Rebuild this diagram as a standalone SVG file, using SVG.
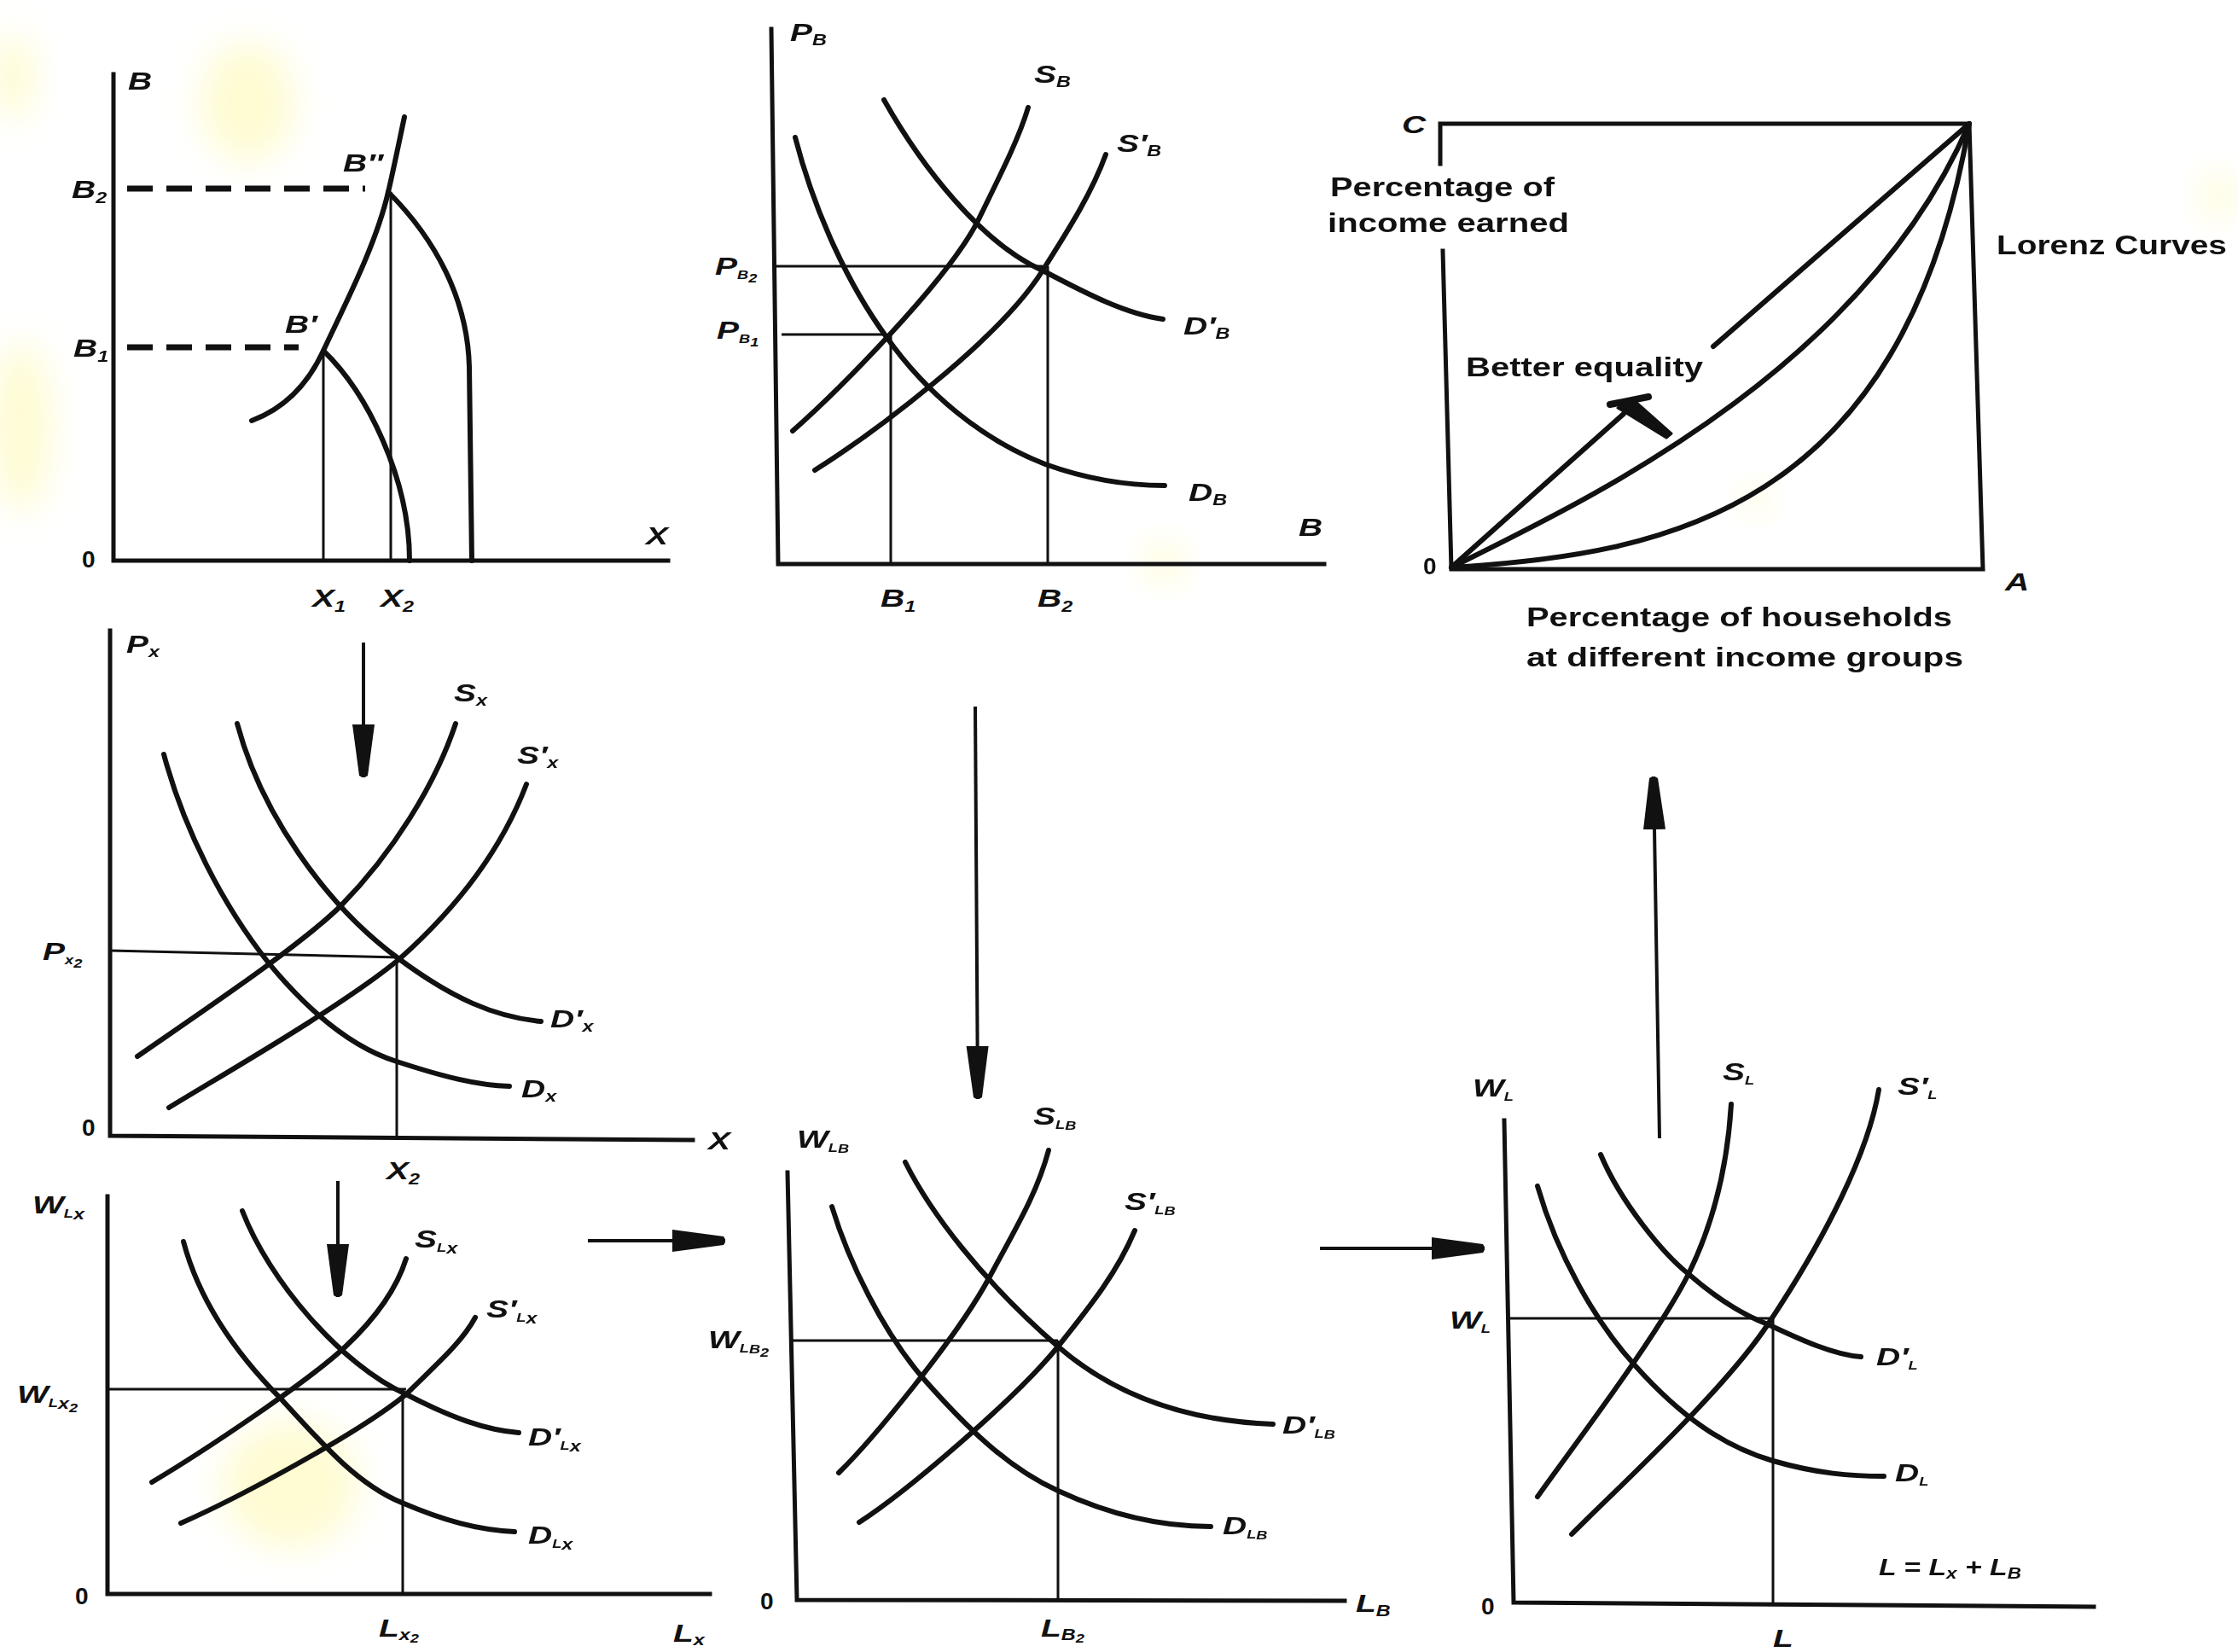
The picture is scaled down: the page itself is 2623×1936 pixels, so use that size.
<svg xmlns="http://www.w3.org/2000/svg" width="2623" height="1936" viewBox="0 0 2623 1936">
<defs>
<style>
.bg{fill:#ffffff}
.stain{fill:#fff690;filter:url(#blur)}
.crv{fill:none;stroke:#111;stroke-width:6;stroke-linecap:round;stroke-linejoin:round}
.ax{fill:none;stroke:#111;stroke-width:5;stroke-linecap:square;stroke-linejoin:miter}
.gd{fill:none;stroke:#111;stroke-width:3}
.dash{fill:none;stroke:#111;stroke-width:7;stroke-dasharray:30 16}
.arr{fill:none;stroke:#111;stroke-width:4;marker-end:url(#ah)}
.t{font-family:"Liberation Sans","DejaVu Sans",Arial,sans-serif;font-style:italic;font-weight:bold;font-size:30px;fill:#111}
.n{font-family:"Liberation Sans","DejaVu Sans",Arial,sans-serif;font-weight:bold;font-size:28px;fill:#111}
.s{font-size:18px}
.ss{font-size:14px}
.w{font-family:"Liberation Sans","DejaVu Sans",Arial,sans-serif;font-weight:bold;font-size:31px;fill:#111}
</style>
<filter id="blur" x="-50%" y="-50%" width="200%" height="200%"><feGaussianBlur stdDeviation="20"/></filter>
<marker id="ah" viewBox="0 -14 64 28" refX="62" refY="0" markerWidth="64" markerHeight="28" markerUnits="userSpaceOnUse" orient="auto"><path d="M0,-13 L60,-5 Q64,0 60,5 L0,13 Z" fill="#111"/></marker>
</defs>
<rect class="bg" x="0" y="0" width="2623" height="1936"/>
<g id="stains" opacity="0.4">
<ellipse class="stain" cx="290" cy="120" rx="55" ry="70"/>
<ellipse class="stain" cx="25" cy="500" rx="35" ry="100"/>
<ellipse class="stain" cx="15" cy="90" rx="25" ry="50"/>
<ellipse class="stain" cx="340" cy="1740" rx="80" ry="75"/>
<ellipse class="stain" cx="1365" cy="660" rx="22" ry="22"/>
<ellipse class="stain" cx="2600" cy="230" rx="20" ry="25"/>
<ellipse class="stain" cx="2058" cy="585" rx="16" ry="16"/>
</g>

<g id="panel-ppf">
<path class="ax" d="M133,87 L133,657 L783,657"/>
<path class="dash" d="M149,221 L428,221"/>
<path class="dash" d="M149,407 L350,407"/>
<path class="gd" d="M379,411 L379,657 M458,225 L458,657"/>
<path class="crv" d="M295,493 C335,478 362,448 379,411 C400,365 440,290 455,225 C462,195 468,165 474,137"/>
<path class="crv" d="M379,411 C430,460 480,560 480,657"/>
<path class="crv" d="M455,225 C510,280 548,350 550,430 L553,657"/>
<text class="t" transform="translate(150,105) scale(1.3 1)">B</text>
<text class="n" transform="translate(96,665)">0</text>
<text class="t" transform="translate(757,638) scale(1.3 1)">X</text>
<text class="t" transform="translate(84,232) scale(1.3 1)">B<tspan class="s" dy="6">2</tspan></text>
<text class="t" transform="translate(86,418) scale(1.3 1)">B<tspan class="s" dy="6">1</tspan></text>
<text class="t" transform="translate(402,201) scale(1.3 1)">B″</text>
<text class="t" transform="translate(334,390) scale(1.3 1)">B′</text>
<text class="t" transform="translate(366,711) scale(1.3 1)">X<tspan class="s" dy="6">1</tspan></text>
<text class="t" transform="translate(446,711) scale(1.3 1)">X<tspan class="s" dy="6">2</tspan></text>
</g>

<g id="panel-b-market">
<path class="ax" d="M904,34 L912,661 L1552,661"/>
<path class="gd" d="M910,312 L1222,312 M916,392 L1039,392 M1044,392 L1044,661 M1228,312 L1228,661"/>
<path class="crv" d="M932,161 C955,250 995,335 1039,395 C1085,460 1150,515 1225,544 C1275,562 1320,569 1365,569"/>
<path class="crv" d="M1036,117 C1080,195 1150,285 1222,317 C1275,345 1320,368 1363,374"/>
<path class="crv" d="M929,505 C980,460 1110,330 1146,259 C1175,200 1195,160 1205,126"/>
<path class="crv" d="M955,551 C1020,510 1170,400 1222,317 C1255,265 1280,225 1296,181"/>
<text class="t" transform="translate(926,48) scale(1.3 1)">P<tspan class="s" dy="5">B</tspan></text>
<text class="t" transform="translate(1212,97) scale(1.3 1)">S<tspan class="s" dy="5">B</tspan></text>
<text class="t" transform="translate(1309,178) scale(1.3 1)">S′<tspan class="s" dy="5">B</tspan></text>
<text class="t" transform="translate(1387,392) scale(1.3 1)">D′<tspan class="s" dy="5">B</tspan></text>
<text class="t" transform="translate(1393,587) scale(1.3 1)">D<tspan class="s" dy="5">B</tspan></text>
<text class="t" transform="translate(1522,628) scale(1.3 1)">B</text>
<text class="t" transform="translate(838,322) scale(1.3 1)">P<tspan class="ss" dy="5">B</tspan><tspan class="ss" dy="4">2</tspan></text>
<text class="t" transform="translate(840,397) scale(1.3 1)">P<tspan class="ss" dy="5">B</tspan><tspan class="ss" dy="4">1</tspan></text>
<text class="t" transform="translate(1032,711) scale(1.3 1)">B<tspan class="s" dy="6">1</tspan></text>
<text class="t" transform="translate(1216,711) scale(1.3 1)">B<tspan class="s" dy="6">2</tspan></text>
</g>

<g id="panel-lorenz">
<path class="ax" d="M1688,192 L1688,145 L2308,145 L2324,667 L1701,667 L1691,294"/>
<path class="crv" d="M1701,665 L1903,485 M2008,406 L2308,145"/>
<path class="crv" d="M1701,665 C1850,590 2180,440 2308,145"/>
<path class="crv" d="M1701,665 C1950,650 2230,600 2308,145"/>
<path d="M1887,474 L1932,465" stroke="#111" stroke-width="8" stroke-linecap="round" fill="none"/>
<path d="M1896,478 L1914,468 L1959,508 L1953,513 Z" fill="#111" stroke="#111" stroke-width="3" stroke-linejoin="round"/>
<text class="t" transform="translate(1643,156) scale(1.3 1)">C</text>
<text class="n" transform="translate(1668,673)">0</text>
<text class="t" transform="translate(2350,692) scale(1.3 1)">A</text>
<text class="w" x="1559" y="230" textLength="263" lengthAdjust="spacingAndGlyphs">Percentage of</text>
<text class="w" x="1556" y="272" textLength="283" lengthAdjust="spacingAndGlyphs">income earned</text>
<text class="w" x="2340" y="298" textLength="270" lengthAdjust="spacingAndGlyphs">Lorenz Curves</text>
<text class="w" x="1718" y="441" textLength="278" lengthAdjust="spacingAndGlyphs">Better equality</text>
<text class="w" x="1789" y="734" textLength="499" lengthAdjust="spacingAndGlyphs">Percentage of households</text>
<text class="w" x="1789" y="781" textLength="512" lengthAdjust="spacingAndGlyphs">at different income groups</text>
</g>

<g id="panel-x-market">
<path class="ax" d="M129,739 L129,1331 L812,1336"/>
<path class="gd" d="M129,1114 L468,1122 M465,1122 L465,1331"/>
<path class="crv" d="M192,884 C215,970 260,1060 316,1130 C370,1195 420,1230 465,1244 C520,1262 560,1272 597,1273"/>
<path class="crv" d="M278,848 C305,950 380,1060 468,1124 C530,1170 580,1192 634,1197"/>
<path class="crv" d="M161,1238 C230,1190 350,1110 399,1062 C460,1000 510,920 534,848"/>
<path class="crv" d="M198,1298 C260,1260 400,1180 468,1124 C540,1060 590,990 617,919"/>
<text class="t" transform="translate(148,765) scale(1.3 1)">P<tspan class="s" dy="5">x</tspan></text>
<text class="t" transform="translate(532,822) scale(1.3 1)">S<tspan class="s" dy="5">x</tspan></text>
<text class="t" transform="translate(606,895) scale(1.3 1)">S′<tspan class="s" dy="5">x</tspan></text>
<text class="t" transform="translate(645,1204) scale(1.3 1)">D′<tspan class="s" dy="5">x</tspan></text>
<text class="t" transform="translate(611,1286) scale(1.3 1)">D<tspan class="s" dy="5">x</tspan></text>
<text class="n" transform="translate(96,1331)">0</text>
<text class="t" transform="translate(830,1347) scale(1.3 1)">X</text>
<text class="t" transform="translate(50,1125) scale(1.3 1)">P<tspan class="ss" dy="5">x</tspan><tspan class="ss" dy="4">2</tspan></text>
<text class="t" transform="translate(453,1382) scale(1.3 1)">X<tspan class="s" dy="6">2</tspan></text>
</g>

<g id="panel-lx-market">
<path class="ax" d="M126,1402 L126,1868 L832,1868"/>
<path class="gd" d="M126,1628 L476,1628 M472,1628 L472,1868"/>
<path class="crv" d="M215,1455 C235,1530 280,1590 330,1640 C380,1695 420,1740 471,1761 C520,1782 560,1793 603,1795"/>
<path class="crv" d="M284,1419 C315,1500 400,1600 476,1634 C530,1662 570,1676 608,1679"/>
<path class="crv" d="M178,1737 C240,1700 360,1620 405,1578 C440,1545 465,1510 476,1475"/>
<path class="crv" d="M212,1785 C280,1755 420,1680 476,1634 C510,1600 540,1575 557,1544"/>
<text class="t" transform="translate(38,1422) scale(1.3 1)">W<tspan class="ss" dy="5">L</tspan><tspan class="s" dy="2">x</tspan></text>
<text class="t" transform="translate(486,1462) scale(1.3 1)">S<tspan class="ss" dy="5">L</tspan><tspan class="s" dy="2">x</tspan></text>
<text class="t" transform="translate(570,1544) scale(1.3 1)">S′<tspan class="ss" dy="5">L</tspan><tspan class="s" dy="2">x</tspan></text>
<text class="t" transform="translate(619,1694) scale(1.3 1)">D′<tspan class="ss" dy="5">L</tspan><tspan class="s" dy="2">x</tspan></text>
<text class="t" transform="translate(619,1809) scale(1.3 1)">D<tspan class="ss" dy="5">L</tspan><tspan class="s" dy="2">x</tspan></text>
<text class="t" transform="translate(20,1644) scale(1.3 1)">W<tspan class="ss" dy="5">L</tspan><tspan class="s" dy="2">x</tspan><tspan class="ss" dy="4">2</tspan></text>
<text class="n" transform="translate(88,1880)">0</text>
<text class="t" transform="translate(444,1918) scale(1.3 1)">L<tspan class="s" dy="4">x</tspan><tspan class="ss" dy="3">2</tspan></text>
<text class="t" transform="translate(789,1924) scale(1.3 1)">L<tspan class="s" dy="4">x</tspan></text>
</g>

<g id="panel-lb-market">
<path class="ax" d="M923,1374 L934,1875 L1576,1876"/>
<path class="gd" d="M929,1571 L1240,1571 M1240,1571 L1240,1875"/>
<path class="crv" d="M975,1414 C995,1480 1035,1560 1080,1613 C1130,1670 1180,1720 1240,1747 C1300,1775 1360,1789 1419,1789"/>
<path class="crv" d="M1061,1362 C1090,1420 1150,1500 1240,1578 C1300,1630 1380,1665 1492,1669"/>
<path class="crv" d="M983,1726 C1020,1690 1120,1570 1159,1498 C1190,1440 1215,1400 1229,1348"/>
<path class="crv" d="M1007,1784 C1060,1750 1190,1640 1240,1578 C1280,1528 1310,1490 1330,1442"/>
<text class="t" transform="translate(934,1345) scale(1.3 1)">W<tspan class="ss" dy="5">L</tspan><tspan class="ss" dy="1">B</tspan></text>
<text class="t" transform="translate(1211,1318) scale(1.3 1)">S<tspan class="ss" dy="5">L</tspan><tspan class="ss" dy="1">B</tspan></text>
<text class="t" transform="translate(1318,1418) scale(1.3 1)">S′<tspan class="ss" dy="5">L</tspan><tspan class="ss" dy="1">B</tspan></text>
<text class="t" transform="translate(1503,1680) scale(1.3 1)">D′<tspan class="ss" dy="5">L</tspan><tspan class="ss" dy="1">B</tspan></text>
<text class="t" transform="translate(1433,1798) scale(1.3 1)">D<tspan class="ss" dy="5">L</tspan><tspan class="ss" dy="1">B</tspan></text>
<text class="t" transform="translate(830,1580) scale(1.3 1)">W<tspan class="ss" dy="5">L</tspan><tspan class="ss" dy="1">B</tspan><tspan class="ss" dy="4">2</tspan></text>
<text class="n" transform="translate(891,1886)">0</text>
<text class="t" transform="translate(1589,1889) scale(1.3 1)">L<tspan class="s" dy="5">B</tspan></text>
<text class="t" transform="translate(1220,1918) scale(1.3 1)">L<tspan class="s" dy="4">B</tspan><tspan class="ss" dy="3">2</tspan></text>
</g>

<g id="panel-l-market">
<path class="ax" d="M1763,1313 L1774,1878 L2454,1883"/>
<path class="gd" d="M1768,1545 L2078,1545 M2078,1545 L2078,1880"/>
<path class="crv" d="M1802,1390 C1825,1470 1870,1550 1917,1601 C1970,1660 2020,1695 2078,1712 C2130,1727 2170,1730 2208,1730"/>
<path class="crv" d="M1876,1353 C1900,1410 1950,1470 1979,1493 C2010,1520 2040,1540 2072,1552 C2110,1570 2150,1588 2181,1590"/>
<path class="crv" d="M1802,1754 C1840,1700 1940,1570 1979,1493 C2010,1430 2025,1360 2029,1294"/>
<path class="crv" d="M1842,1798 C1900,1740 2020,1630 2072,1552 C2140,1450 2190,1350 2202,1277"/>
<text class="t" transform="translate(1726,1285) scale(1.3 1)">W<tspan class="ss" dy="5">L</tspan></text>
<text class="t" transform="translate(2019,1266) scale(1.3 1)">S<tspan class="ss" dy="5">L</tspan></text>
<text class="t" transform="translate(2224,1283) scale(1.3 1)">S′<tspan class="ss" dy="5">L</tspan></text>
<text class="t" transform="translate(2199,1600) scale(1.3 1)">D′<tspan class="ss" dy="5">L</tspan></text>
<text class="t" transform="translate(2221,1736) scale(1.3 1)">D<tspan class="ss" dy="5">L</tspan></text>
<text class="t" transform="translate(1699,1557) scale(1.3 1)">W<tspan class="ss" dy="5">L</tspan></text>
<text class="n" transform="translate(1736,1892)">0</text>
<text class="t" transform="translate(2078,1930) scale(1.3 1)">L</text>
<text class="t" style="font-size:27px" transform="translate(2202,1846) scale(1.25 1)">L = L<tspan class="s" dy="4">x</tspan><tspan dy="-4"> + L</tspan><tspan class="s" dy="4">B</tspan></text>
</g>

<g id="connectors">
<path class="arr" d="M426,753 L426,911"/>
<path class="arr" d="M396,1384 L396,1520"/>
<path class="arr" d="M689,1454 L850,1454"/>
<path class="arr" d="M1143,828 L1146,1288"/>
<path class="arr" d="M1547,1463 L1740,1463"/>
<path class="arr" d="M1945,1334 L1938,910"/>
</g>
</svg>
